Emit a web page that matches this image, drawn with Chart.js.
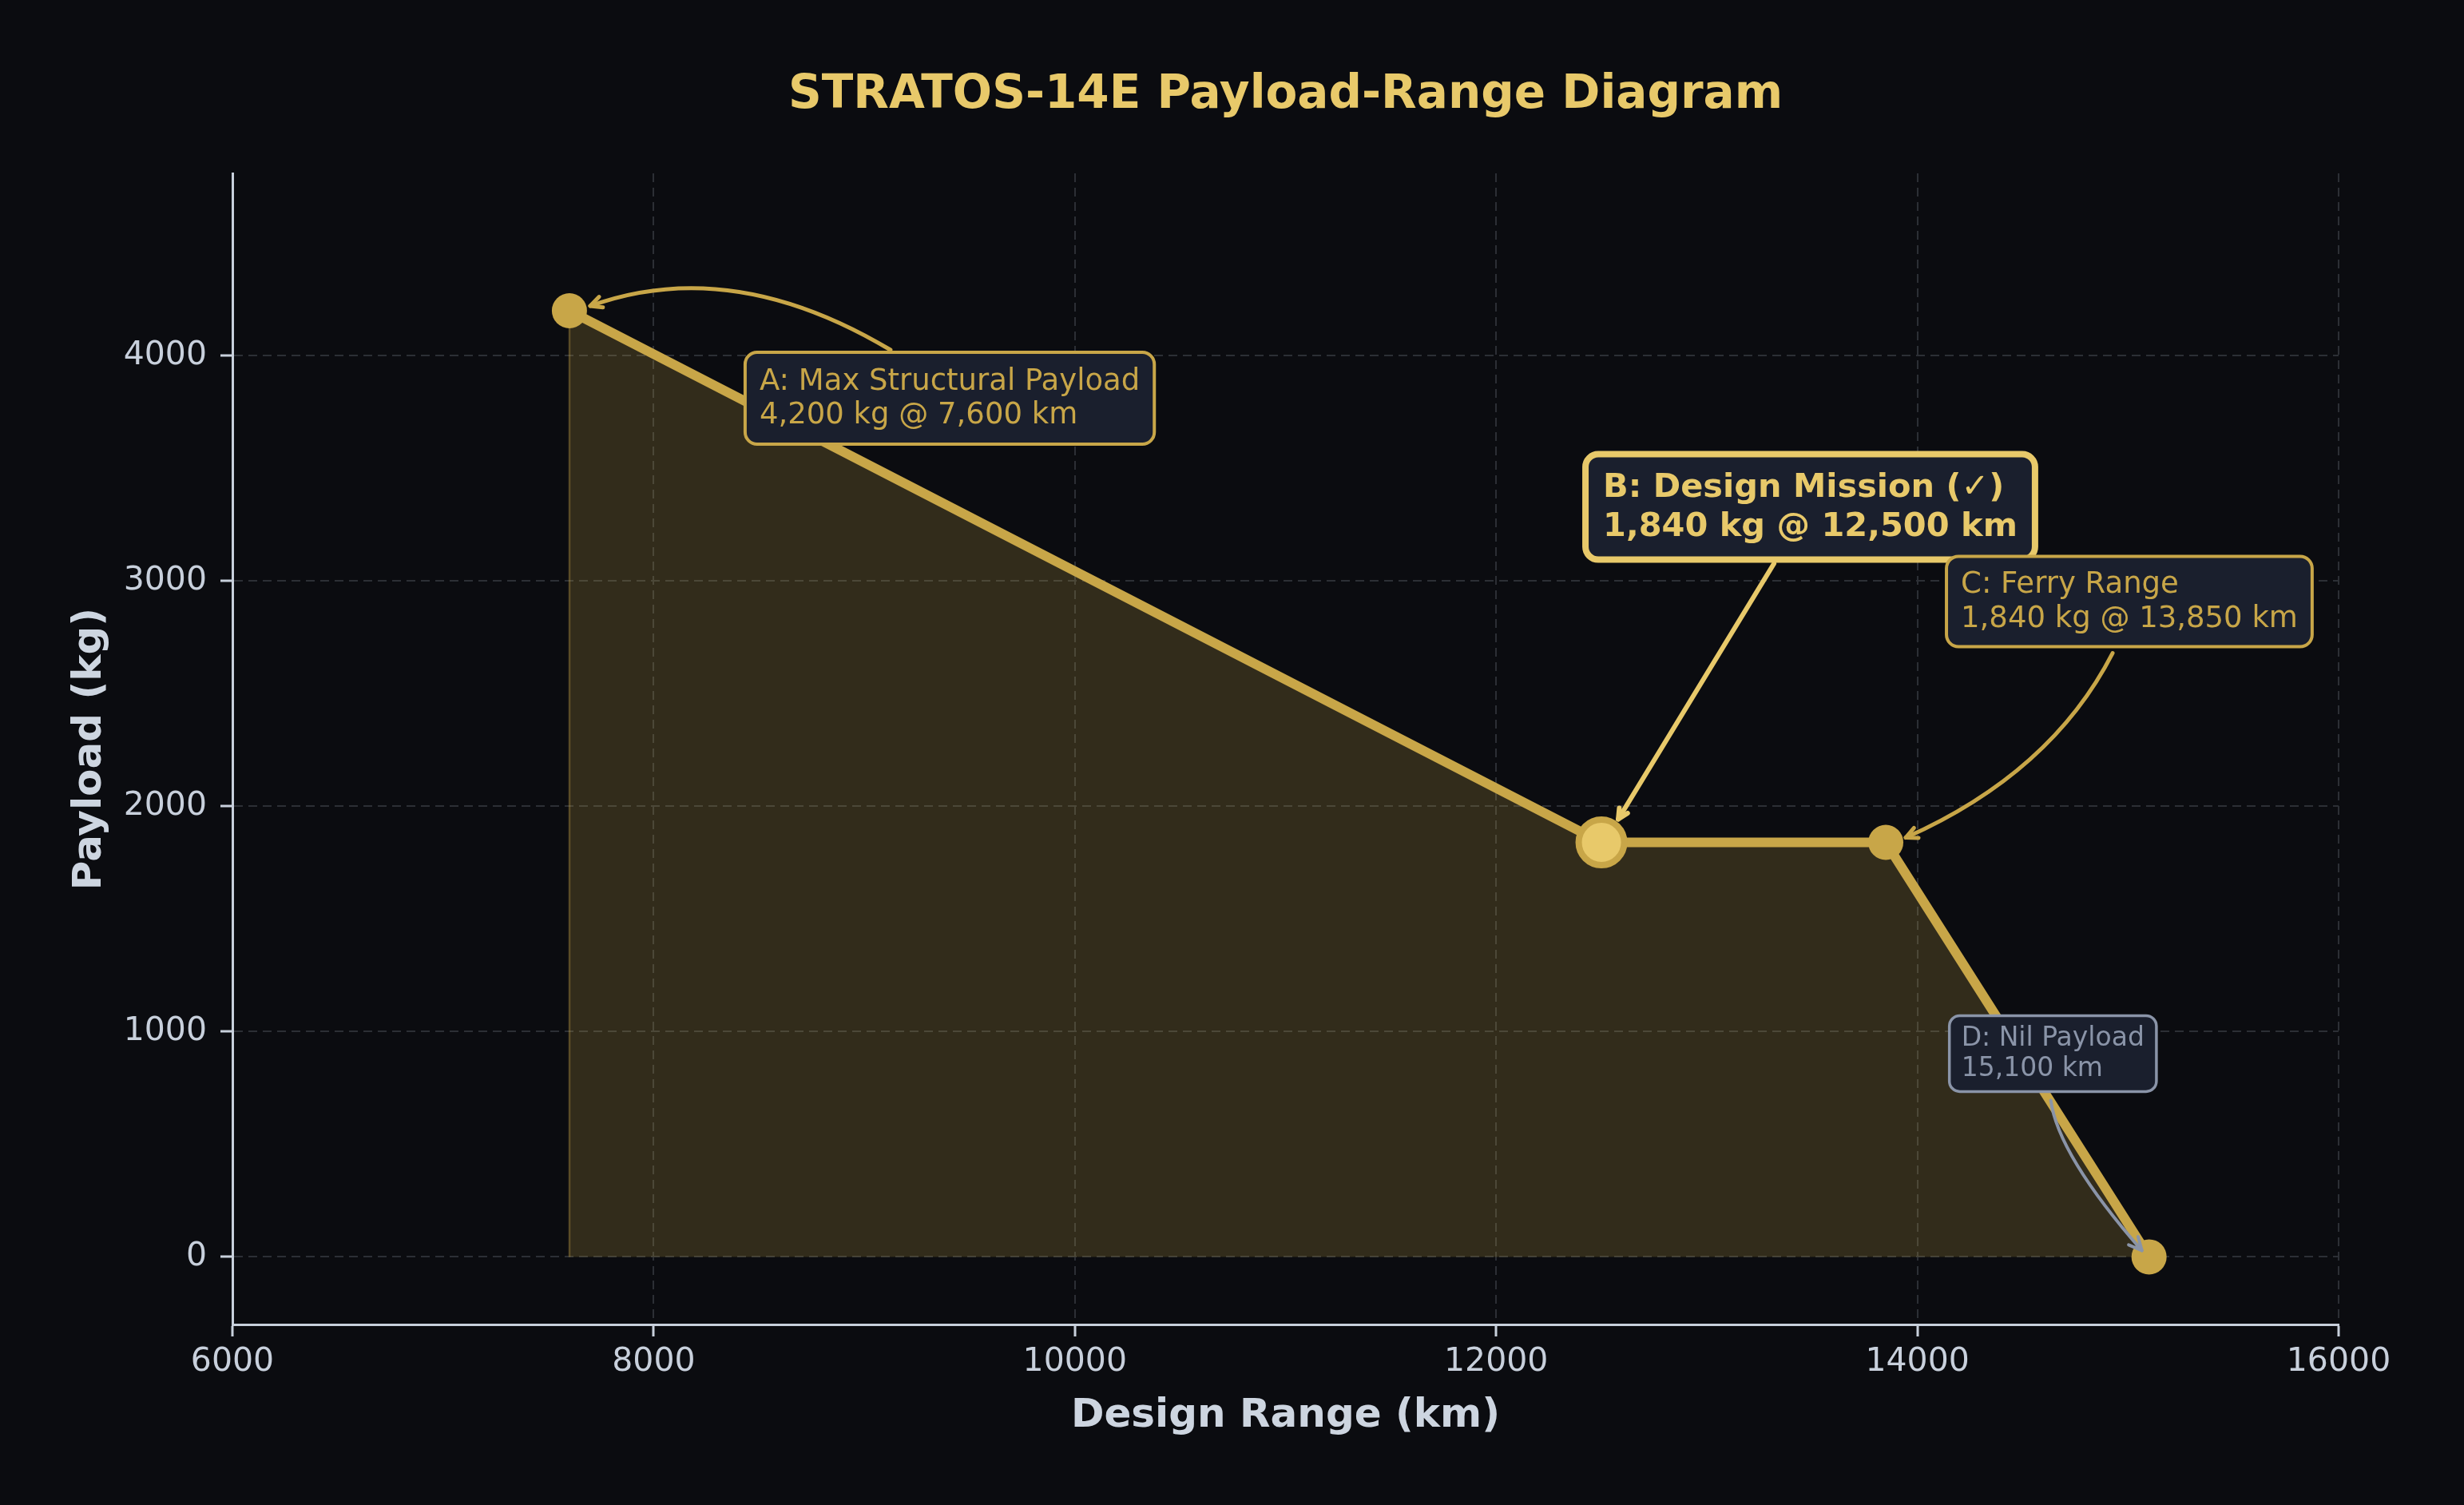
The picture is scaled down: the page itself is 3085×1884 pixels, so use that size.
<!DOCTYPE html>
<html>
<head>
<meta charset="utf-8">
<title>STRATOS-14E Payload-Range Diagram</title>
<script src="https://cdn.jsdelivr.net/npm/chart.js@4.4.1/dist/chart.umd.min.js"></script>
<style>
  html, body { margin: 0; padding: 0; background: #0b0c10; }
  canvas { display: block; }
</style>
</head>
<body>
<canvas id="chart" width="3085" height="1884"></canvas>
<script>
// mission points
const pointNames = ['A', 'B', 'C', 'D'];
const pointTitles = ['Max Structural Payload', 'Design Mission (\u2713)', 'Ferry Range', 'Nil Payload'];
const rangeKm = [7600, 12500, 13850, 15100];
const payloadKg = [4200, 1840, 1840, 0];
const xTicks = [6000, 8000, 10000, 12000, 14000, 16000];
const yTicks = [0, 1000, 2000, 3000, 4000];

const FONT = '"DejaVu Sans"';
const gold = '#c8a648';
const light = '#e8c96a';
const slate = '#8a94a8';
const boxFill = '#1a1f2d';
const axisColor = '#c8d0dc';
const gridColor = '#2c2f35';

// label boxes and arrows, offsets in px from the marker they point at
const notes = [
  { font: '37px ' + FONT, color: gold, edge: gold, lw: 4, r: 15, box: [220, 52], padX: 18, first: 47, lineH: 42, after: 26,
    arrow: { from: [402, 49], ctrl: [203, -70], to: [26, -6], lw: 5, color: gold, head: 16 } },
  { font: 'bold 41.5px ' + FONT, color: light, edge: light, lw: 8, r: 16, box: [-20, -486], padX: 22, first: 53, lineH: 49, after: 30,
    arrow: { from: [216, -349], ctrl: null, to: [21, -29], lw: 6, color: light, head: 14 } },
  { font: '37px ' + FONT, color: gold, edge: gold, lw: 4, r: 15, box: [76, -358], padX: 18, first: 45, lineH: 43, after: 25,
    arrow: { from: [284, -237], ctrl: [207, -87], to: [25, -6], lw: 5, color: gold, head: 16 } },
  { font: '33px ' + FONT, color: slate, edge: slate, lw: 3.5, r: 13, box: [-250, -302], padX: 15, first: 38, lineH: 38, after: 19,
    arrow: { from: [-123, -196], ctrl: [-114, -128], to: [-9, -8], lw: 4, color: slate, head: 18 } }
];

const fmt = v => v.toLocaleString('en-US');

function noteLines(i) {
  const second = payloadKg[i] === 0
    ? fmt(rangeKm[i]) + ' km'
    : fmt(payloadKg[i]) + ' kg @ ' + fmt(rangeKm[i]) + ' km';
  return [pointNames[i] + ': ' + pointTitles[i], second];
}

function roundRect(ctx, x, y, w, h, r) {
  ctx.beginPath();
  ctx.moveTo(x + r, y);
  ctx.lineTo(x + w - r, y);
  ctx.arcTo(x + w, y, x + w, y + r, r);
  ctx.lineTo(x + w, y + h - r);
  ctx.arcTo(x + w, y + h, x + w - r, y + h, r);
  ctx.lineTo(x + r, y + h);
  ctx.arcTo(x, y + h, x, y + h - r, r);
  ctx.lineTo(x, y + r);
  ctx.arcTo(x, y, x + r, y, r);
  ctx.closePath();
}

function drawArrow(ctx, p, a) {
  const s = [p.x + a.from[0], p.y + a.from[1]];
  const e = [p.x + a.to[0], p.y + a.to[1]];
  const c = a.ctrl ? [p.x + a.ctrl[0], p.y + a.ctrl[1]] : s;
  ctx.save();
  ctx.strokeStyle = a.color;
  ctx.lineWidth = a.lw;
  ctx.lineCap = 'round';
  ctx.lineJoin = 'round';
  ctx.beginPath();
  ctx.moveTo(s[0], s[1]);
  if (a.ctrl) ctx.quadraticCurveTo(c[0], c[1], e[0], e[1]);
  else ctx.lineTo(e[0], e[1]);
  ctx.stroke();
  const ang = Math.atan2(e[1] - c[1], e[0] - c[0]);
  ctx.beginPath();
  ctx.moveTo(e[0] - a.head * Math.cos(ang - 0.45), e[1] - a.head * Math.sin(ang - 0.45));
  ctx.lineTo(e[0], e[1]);
  ctx.lineTo(e[0] - a.head * Math.cos(ang + 0.45), e[1] - a.head * Math.sin(ang + 0.45));
  ctx.stroke();
  ctx.restore();
}

function drawNote(ctx, p, n, lines) {
  ctx.save();
  ctx.font = n.font;
  const w = Math.max(...lines.map(t => ctx.measureText(t).width)) + 2 * n.padX;
  const h = n.first + (lines.length - 1) * n.lineH + n.after;
  const bx = p.x + n.box[0];
  const by = p.y + n.box[1];
  roundRect(ctx, bx, by, w, h, n.r);
  ctx.fillStyle = boxFill;
  ctx.fill();
  ctx.lineWidth = n.lw;
  ctx.strokeStyle = n.edge;
  ctx.stroke();
  ctx.fillStyle = n.color;
  ctx.textAlign = 'left';
  ctx.textBaseline = 'alphabetic';
  lines.forEach((t, k) => ctx.fillText(t, bx + n.padX, by + n.first + k * n.lineH));
  ctx.restore();
}

const annotations = {
  id: 'annotations',
  afterDatasetsDraw(chart) {
    const { ctx, scales: { x, y } } = chart;
    const pts = rangeKm.map((r, i) => ({ x: x.getPixelForValue(r), y: y.getPixelForValue(payloadKg[i]) }));
    notes.forEach((n, i) => drawArrow(ctx, pts[i], n.arrow));
    notes.forEach((n, i) => drawNote(ctx, pts[i], n, noteLines(i)));
  }
};

const heading = {
  id: 'heading',
  afterDraw(chart) {
    const { ctx, chartArea } = chart;
    ctx.save();
    ctx.font = 'bold 58px ' + FONT;
    ctx.fillStyle = light;
    ctx.textAlign = 'center';
    ctx.textBaseline = 'alphabetic';
    ctx.fillText('STRATOS-14E Payload-Range Diagram', (chartArea.left + chartArea.right) / 2, 135);
    ctx.restore();
  }
};

const envelope = rangeKm.map((r, i) => ({ x: r, y: payloadKg[i] }));
const area = [{ x: rangeKm[0], y: 0 }].concat(envelope);

new Chart(document.getElementById('chart'), {
  type: 'line',
  data: {
    datasets: [
      {
        label: 'Payload-range envelope',
        data: envelope,
        borderColor: gold,
        borderWidth: 12,
        borderJoinStyle: 'round',
        borderCapStyle: 'round',
        tension: 0,
        fill: false,
        pointRadius: [22, 28.5, 22, 22],
        pointBorderWidth: [0, 8, 0, 0],
        pointBackgroundColor: [gold, light, gold, gold],
        pointBorderColor: gold,
        order: 1
      },
      {
        label: 'Operating area',
        data: area,
        borderColor: 'rgba(200, 166, 72, 0.35)',
        borderWidth: 2.5,
        backgroundColor: 'rgba(200, 166, 72, 0.21)',
        fill: 'origin',
        tension: 0,
        pointRadius: 0,
        order: 2
      }
    ]
  },
  options: {
    responsive: false,
    animation: false,
    devicePixelRatio: 1,
    layout: { padding: { left: 0, right: 157, top: 217, bottom: 0 } },
    plugins: { legend: { display: false }, tooltip: { enabled: false } },
    scales: {
      x: {
        type: 'linear',
        min: 6000,
        max: 16000,
        afterBuildTicks: s => { s.ticks = xTicks.map(v => ({ value: v })); },
        afterFit: s => { s.height = 226; },
        grid: { color: gridColor, lineWidth: 2, tickLength: 15, tickColor: axisColor, tickWidth: 3 },
        border: { color: axisColor, width: 3, dash: [11, 7] },
        ticks: { color: '#c8d0dc', font: { family: FONT, size: 41 }, padding: 8, maxRotation: 0, callback: v => String(v) },
        title: { display: true, text: 'Design Range (km)', color: '#cdd5e0',
          font: { family: FONT, size: 50, weight: 'bold' }, padding: { top: 0, bottom: 81 } }
      },
      y: {
        type: 'linear',
        min: -300,
        max: 4810,
        afterBuildTicks: s => { s.ticks = yTicks.map(v => ({ value: v })); },
        afterFit: s => { s.width = 291; },
        grid: { color: gridColor, lineWidth: 2, tickLength: 15, tickColor: axisColor, tickWidth: 3 },
        border: { color: axisColor, width: 3, dash: [11, 7] },
        ticks: { color: '#c8d0dc', font: { family: FONT, size: 41 }, padding: 17, callback: v => String(v) },
        title: { display: true, text: 'Payload (kg)', color: '#cdd5e0',
          font: { family: FONT, size: 50, weight: 'bold' }, padding: { top: 83, bottom: 0 } }
      }
    }
  },
  plugins: [annotations, heading]
});
</script>
</body>
</html>
